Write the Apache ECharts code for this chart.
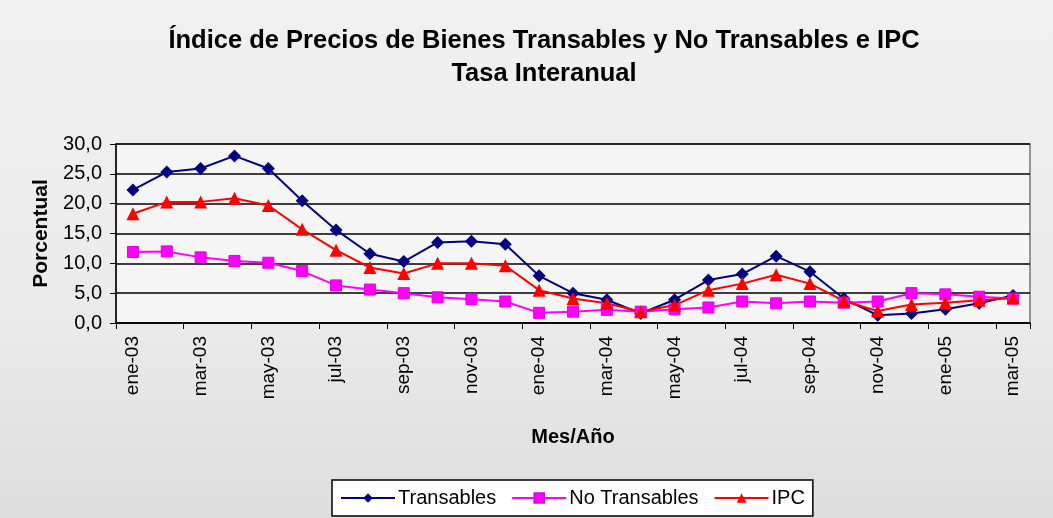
<!DOCTYPE html>
<html>
<head>
<meta charset="utf-8">
<script src="https://cdn.jsdelivr.net/npm/echarts@6/dist/echarts.min.js"></script>
<style>html,body{margin:0;padding:0;background:#eeeeee;}#c{width:1053px;height:518px;}</style>
</head>
<body>
<div id="c"></div>
<script>
const categories = ['ene-03','feb-03','mar-03','abr-03','may-03','jun-03','jul-03','ago-03','sep-03','oct-03','nov-03','dic-03',
  'ene-04','feb-04','mar-04','abr-04','may-04','jun-04','jul-04','ago-04','sep-04','oct-04','nov-04','dic-04',
  'ene-05','feb-05','mar-05'];
const transables = [22.3,25.3,25.9,28.0,25.9,20.5,15.6,11.6,10.3,13.5,13.7,13.2,7.9,5.0,3.9,1.6,3.9,7.2,8.2,11.2,8.6,4.1,1.3,1.6,2.3,3.3,4.6];
const noTransables = [11.9,12.0,11.0,10.4,10.1,8.7,6.3,5.6,5.0,4.3,4.0,3.6,1.7,1.9,2.2,1.9,2.3,2.6,3.6,3.3,3.6,3.4,3.6,5.0,4.8,4.4,4.1];
const ipc = [18.3,20.3,20.3,20.9,19.7,15.7,12.2,9.3,8.3,10.0,10.0,9.6,5.5,4.1,3.3,1.9,3.0,5.5,6.6,8.1,6.6,3.7,2.0,3.1,3.4,3.8,4.2];

const font = 'Liberation Sans, Arial, sans-serif';
const chart = echarts.init(document.getElementById('c'));
chart.setOption({
  backgroundColor: {type:'linear',x:0,y:0,x2:0,y2:1,colorStops:[{offset:0,color:'#f1f1f1'},{offset:0.6,color:'#ebebeb'},{offset:1,color:'#dedede'}]},
  animation: false,
  title: {
    text: 'Índice de Precios de Bienes Transables y No Transables e IPC\nTasa Interanual',
    left: 539, textAlign: 'center', top: 19,
    textStyle: {fontFamily: font, fontSize: 25.5, fontWeight: 'bold', color: '#000', lineHeight: 33}
  },
  legend: {
    bottom: 2, left: 332,
    backgroundColor: '#ffffff', borderColor: '#000', borderWidth: 1.5,
    padding: [8, 8], itemGap: 15, itemWidth: 54, itemHeight: 12,
    textStyle: {fontFamily: font, fontSize: 20, color: '#000', padding: [0,0,0,-2]},
    data: ['Transables','No Transables','IPC']
  },
  grid: {left: 116, right: 23, top: 144, bottom: 195, show: true, backgroundColor: '#f5f5f5', borderColor: '#807070', borderWidth: 1.5},
  xAxis: {
    type: 'category', data: categories, boundaryGap: true,
    name: 'Mes/Año', nameLocation: 'middle', nameGap: 104,
    nameTextStyle: {fontFamily: font, fontSize: 20, fontWeight: 'bold', color: '#000'},
    axisLine: {lineStyle: {color: '#000', width: 1.5}},
    axisTick: {show: true, interval: 1, length: 6, lineStyle: {color: '#000'}},
    axisLabel: {interval: 1, rotate: 90, margin: 13, fontFamily: font, fontSize: 19, color: '#000'}
  },
  yAxis: {
    type: 'value', min: 0, max: 30, interval: 5,
    name: 'Porcentual', nameLocation: 'middle', nameGap: 62,
    nameTextStyle: {fontFamily: font, fontSize: 21, fontWeight: 'bold', color: '#000'},
    axisLine: {show: true, lineStyle: {color: '#000', width: 1.5}},
    axisTick: {show: true, length: 6, lineStyle: {color: '#000'}},
    axisLabel: {fontFamily: font, fontSize: 20, color: '#000', margin: 14, formatter: v => v.toFixed(1).replace('.', ',')},
    splitLine: {lineStyle: {color: '#000', width: 1.5}}
  },
  series: [
    {name: 'Transables', type: 'line', data: transables, symbol: 'diamond', symbolSize: 13,
     lineStyle: {color: '#000080', width: 2}, itemStyle: {color: '#000080'}},
    {name: 'No Transables', type: 'line', data: noTransables, symbol: 'rect', symbolSize: 11,
     lineStyle: {color: '#ff00ff', width: 2}, itemStyle: {color: '#ff00ff', borderColor: '#e000e0', borderWidth: 1}},
    {name: 'IPC', type: 'line', data: ipc, symbol: 'triangle', symbolSize: 13,
     lineStyle: {color: '#ff0000', width: 2}, itemStyle: {color: '#ff0000'}}
  ]
});
</script>
</body>
</html>
